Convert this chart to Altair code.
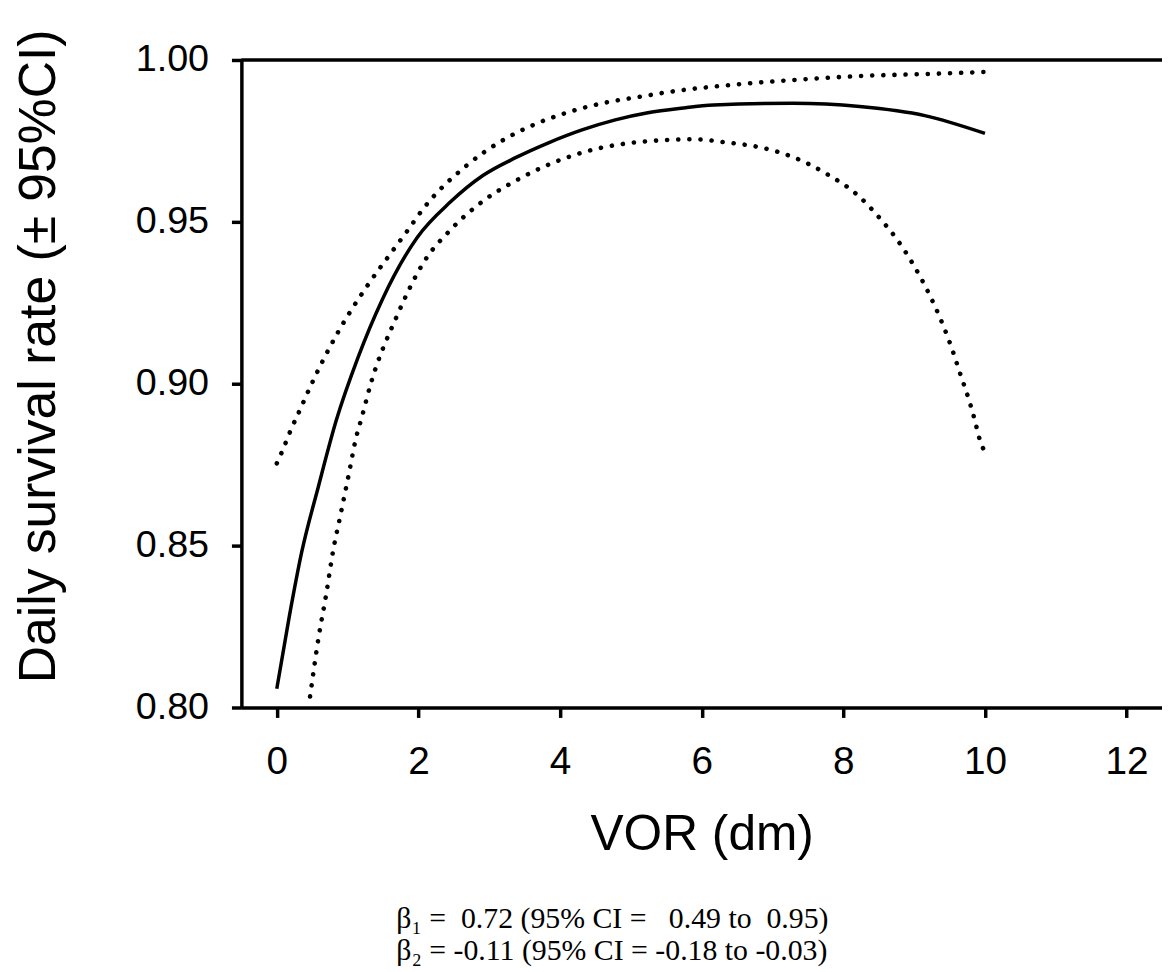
import altair as alt
import pandas as pd

# values
fit_vor = [0.0, 0.17, 0.35, 0.587, 0.84, 1.145, 1.494, 1.983, 2.45, 2.91, 3.38,
           3.845, 4.31, 4.78, 5.24, 5.71, 6.17, 7.29, 8.23, 9.15, 10.0]
fit_dsr = [0.8058, 0.8273, 0.8478, 0.8682, 0.8887, 0.9080, 0.9262, 0.9452, 0.9561,
           0.9643, 0.9699, 0.9745, 0.9784, 0.9815, 0.9837, 0.9851, 0.9861, 0.9866,
           0.9856, 0.9828, 0.9773]

upper_vor = [0.0, 0.07, 0.196, 0.335, 0.48, 0.88, 1.27, 1.61, 1.84, 2.07, 2.68,
             3.16, 3.63, 4.09, 4.57, 5.2, 5.5, 6.42, 7.36, 8.3, 9.22, 10.0]
upper_dsr = [0.8754, 0.8788, 0.8856, 0.8923, 0.8994, 0.9165, 0.930, 0.9403, 0.9471,
             0.9541, 0.9674, 0.9748, 0.980, 0.9837, 0.9865, 0.9889, 0.9900, 0.9923,
             0.9939, 0.9951, 0.9957, 0.9963]

lower_vor = [0.47, 0.587, 0.698, 0.796, 0.894, 1.02, 1.117, 1.2, 1.327, 1.69, 2.08,
             2.47, 2.93, 3.39, 3.85, 4.33, 5.43, 5.89, 6.36, 6.83, 7.29, 7.75, 8.23,
             8.52, 8.77, 8.98, 9.15, 9.3, 9.43, 9.55, 9.65, 9.76, 9.85, 9.93, 10.0]
lower_dsr = [0.8034, 0.8212, 0.835, 0.8485, 0.8589, 0.8724, 0.8831, 0.8896, 0.900,
             0.9206, 0.9377, 0.9479, 0.9567, 0.9629, 0.9678, 0.9715, 0.9752, 0.9755,
             0.9745, 0.973, 0.970, 0.965, 0.9577, 0.951, 0.9442, 0.9371, 0.9304,
             0.9236, 0.9169, 0.9098, 0.9031, 0.896, 0.8893, 0.8825, 0.8788]

x_ticks = [0, 2, 4, 6, 8, 10, 12]
y_ticks = [0.80, 0.85, 0.90, 0.95, 1.00]

beta_lines = ['\u03b2\u2081 =\u00a0 0.72 (95% CI =\u00a0\u00a0 0.49 to\u00a0 0.95)',
              '\u03b2\u2082 = -0.11 (95% CI = -0.18 to -0.03)']

fit_df = pd.DataFrame({'vor': fit_vor, 'dsr': fit_dsr})
ci_df = pd.concat([
    pd.DataFrame({'vor': upper_vor, 'dsr': upper_dsr, 'bound': 'upper'}),
    pd.DataFrame({'vor': lower_vor, 'dsr': lower_dsr, 'bound': 'lower'}),
])
one_row = pd.DataFrame({'k': [0]})

x_enc = alt.X('vor:Q', scale=alt.Scale(domain=[-0.5, 12.5], nice=False, zero=False),
              axis=alt.Axis(title='VOR (dm)', values=x_ticks, format='d',
                            titleFontSize=50, titleY=143, titleBaseline='alphabetic',
                            labelFontSize=39, labelPadding=25, tickSize=10))
y_enc = alt.Y('dsr:Q', scale=alt.Scale(domain=[0.8, 1.0], nice=False, zero=False),
              axis=alt.Axis(title='Daily survival rate (\u00b1 95%CI)', values=y_ticks,
                            format='.2f', titleFontSize=52, titleAngle=-90,
                            titleX=-188, titleY=298, titleAlign='center',
                            titleBaseline='alphabetic',
                            labelFontSize=38, labelPadding=23, tickSize=10))

fit_line = alt.Chart(fit_df).mark_line(
    color='black', strokeWidth=3.5, interpolate='monotone'
).encode(x=x_enc, y=y_enc)

ci_lines = alt.Chart(ci_df).mark_line(
    color='black', strokeWidth=4.6, strokeCap='round', strokeDash=[0.1, 11.1],
    interpolate='monotone'
).encode(x='vor:Q', y='dsr:Q', detail='bound:N')

top_border = alt.Chart(one_row).mark_rule(color='black', strokeWidth=3.5).encode(
    y=alt.datum(1.0))

beta_text = alt.Chart(one_row).mark_text(
    align='left', baseline='alphabetic', font='Liberation Serif', fontSize=30,
    fontWeight='normal', lineHeight=32, color='black'
).encode(x=alt.value(156), y=alt.value(874), text=alt.value(beta_lines))

chart = alt.layer(top_border, ci_lines, fit_line, beta_text).properties(
    width=927, height=652,
    autosize=alt.AutoSizeParams(type='none'),
    padding={'left': 235, 'top': 49, 'right': 0, 'bottom': 262}
).configure_view(strokeWidth=0
).configure_axis(
    grid=False, domainColor='black', domainWidth=3.5, tickColor='black',
    tickWidth=3.5, labelColor='black', titleColor='black', labelFont='Liberation Sans',
    titleFont='Liberation Sans', titleFontWeight='normal'
)

chart.save('out.html', embed_options={'renderer': 'svg', 'actions': False})
